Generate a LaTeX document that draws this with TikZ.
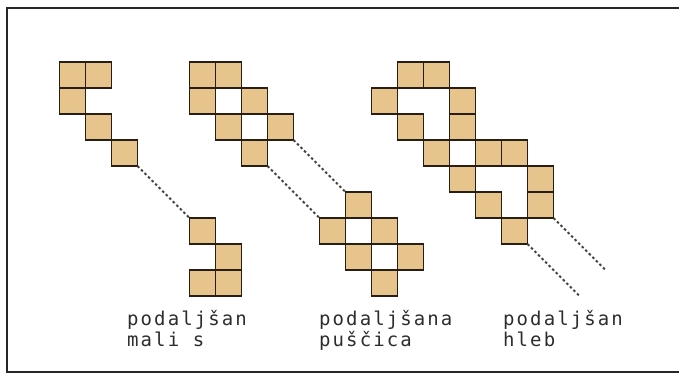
\documentclass[tikz,border=0pt]{standalone}
\usepackage{fontspec}
\newfontfamily\labelfont[LetterSpace=11]{DejaVu Sans Mono}
\usepackage{xcolor}
\usepackage{tikz}
\usetikzlibrary{positioning}

\definecolor{cellfill}{RGB}{230,196,140}
\definecolor{cellline}{RGB}{40,30,22}
\definecolor{labelgray}{RGB}{45,45,45}

\begin{document}
\begin{tikzpicture}[
x=1pt, y=-1pt,
cell/.style={
draw=cellline,
fill=cellfill,
line width=1.8pt,
minimum size=26pt,
inner sep=0pt,
outer sep=0pt,
anchor=north west
},
dots/.style={
draw=cellline!85,
line width=1.8pt,
dash pattern=on 2.5pt off 2.5pt
},
caption/.style={
align=left,
anchor=north west,
inner sep=0pt,
text=labelgray,
font=\labelfont\fontsize{19}{21.5}\selectfont
},
frame/.style={
draw=black!85,
line width=2.2pt
}
]
\useasboundingbox (0,0) rectangle (679,374);

% Frame
\draw[frame] (679,8) -- (7,8) -- (7,372) -- (679,372);

% mali s
\foreach \c/\r [count=\i] in {0/0,1/0,0/1,1/2,2/3,5/6,6/7,5/8,6/8}
\node[cell] (s\i) at ({59.5+26*\c},{62+26*\r}) {};

% puscica
\foreach \c/\r [count=\i] in {5/0,6/0,5/1,7/1,6/2,8/2,7/3,
11/5,10/6,12/6,11/7,13/7,12/8}
\node[cell] (p\i) at ({59.5+26*\c},{62+26*\r}) {};

% hleb
\foreach \c/\r [count=\i] in {13/0,14/0,12/1,15/1,13/2,15/2,14/3,
16/3,17/3,15/4,18/4,16/5,18/5,17/6}
\node[cell] (h\i) at ({59.5+26*\c},{62+26*\r}) {};

% Free ends
\coordinate (hend1) at ({59.5+26*21},{62+26*8});
\coordinate (hend2) at ({59.5+26*20},{62+26*9});

% Connections
\draw[dots] (s5.south east) -- (s6.north west);
\draw[dots] (p6.south east) -- (p8.north west);
\draw[dots] (p7.south east) -- (p9.north west);
\draw[dots] (h13.south east) -- (hend1);
\draw[dots] (h14.south east) -- (hend2);

% Labels
\node[caption] (lmalis) at (127,310) {podaljšan\\mali s};
\node[caption] (lpuscica) at (319,310) {podaljšana\\puščica};
\node[caption] (lhleb) at (503,310) {podaljšan\\hleb};

\end{tikzpicture}
\end{document}
